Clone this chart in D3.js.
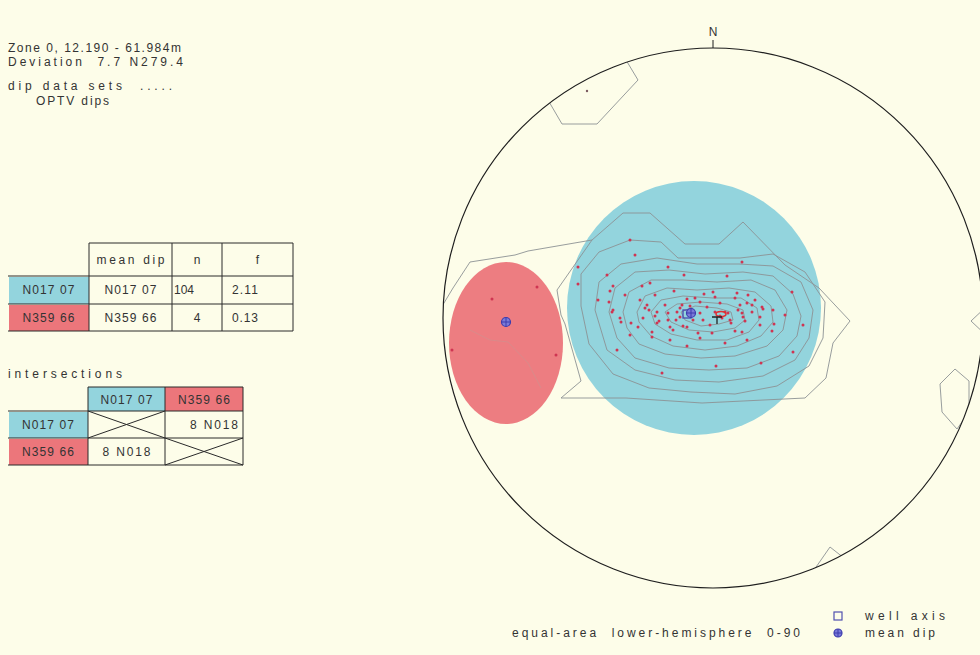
<!DOCTYPE html>
<html><head><meta charset="utf-8">
<script src="https://cdn.jsdelivr.net/npm/d3@7"></script>
<style>
html,body{margin:0;padding:0;background:#fdfde9;}
svg{display:block;}
text{font-family:"Liberation Sans",Arial,sans-serif;fill:#333;font-size:12px;white-space:pre;}
</style></head><body>
<svg id="chart" width="980" height="655"></svg>
<script>
// ---------------- data ----------------
const headerLines = ["Zone 0, 12.190 - 61.984m", "Deviation  7.7 N279.4", "dip data sets  .....", "OPTV dips"];
const tableHeaders = ["mean dip", "n", "f"];
const setLabels = ["N017 07", "N359 66"];
const meanDips = ["N017 07", "N359 66"];
const setCounts = [104, 4];
const setF = ["2.11", "0.13"];
const intersectionTitle = "intersections";
const intersectionLabel = "8 N018";
const projectionLabel = "equal-area  lower-hemisphere  0-90";
const legendLabels = ["well axis", "mean dip"];
const northLabel = "N";

// stereonet positions in net units (net radius = 270), x = east, y = north
const set1Poles = [[-106,43],[-29,43],[14,42],[-100,32],[-63,35],[-71,32],[-39,27],[-103,27],[-58,23],[-26,19],[-9,24],[0,26],[2,21],[24,25],[35,23],[79,26],[-104,16],[-66,13],[-68,10],[-64,8],[-56,6],[-31,13],[-33,10],[-13,16],[-6,11],[7,15],[27,13],[34,15],[39,13],[49,11],[-100,8],[-45,5],[-36,6],[-33,1],[-13,5],[12,6],[15,5],[25,8],[29,5],[30,1],[39,6],[47,1],[60,8],[-93,0],[-82,-5],[-70,0],[-54,-3],[-56,-5],[-45,-2],[-37,-2],[-20,-2],[-10,-2],[17,-2],[18,-5],[32,-3],[-75,-9],[-61,-14],[-43,-9],[-40,-12],[-30,-8],[-26,-9],[22,-13],[29,-14],[-61,-19],[-15,-15],[-1,-15],[61,-6],[59,-13],[-43,-22],[-26,-28],[12,-25],[34,-22],[-96,-32],[80,-34],[-51,-55],[3,-48],[48,-45],[29,56],[-135,51],[-45,51],[-135,34],[-101,6],[-92,-4],[50,9],[90,-7],[-83,78],[-78,63],[2,6],[7,2],[9,0],[-58,2],[-23,12],[-18,20],[22,20],[42,18],[-73,18],[-88,23],[-48,13],[-3,-7],[-13,-20],[47,-7],[72,3],[-83,-17],[-115,18]];
const set2Poles = [[-176,31],[-221,19],[-261,-32],[-157,-37]];
const otherPoles = [[-126,227]];
const meanPoles = [[-22,5],[-207,-4]];
const wellAxis = [-26,4];
const clusterCenters = [[-19,10],[-207,-25]];
const clusterRadii = [[127,127],[57,81]];

const contoursClosed = [
  [[-121,78],[-90,105],[-63,105],[-28,74],[6,74],[30,96],[72,53],[106,30],[137,-3],[120,-25],[113,-60],[92,-80],[-11,-85],[-87,-80],[-152,-80],[-132,-63],[-148,-6],[-152,3],[-156,28],[-142,48]],
  [[-132,12],[-132,44],[-114,66],[-83,78],[-52,76],[-35,60],[-5,60],[27,60],[60,64],[92,46],[112,16],[110,-20],[96,-48],[64,-68],[22,-76],[-22,-74],[-64,-70],[-100,-56],[-124,-26]],
  [[-118,8],[-114,36],[-92,54],[-56,60],[-16,54],[26,54],[60,52],[88,36],[100,8],[96,-20],[82,-42],[50,-58],[6,-64],[-38,-62],[-78,-52],[-106,-32]],
  [[-104,6],[-98,30],[-78,46],[-44,48],[-8,44],[30,46],[60,42],[80,24],[88,2],[84,-18],[66,-38],[34,-50],[-4,-52],[-44,-50],[-78,-40],[-96,-20]],
  [[-90,6],[-84,26],[-62,38],[-30,38],[4,36],[38,38],[62,28],[74,8],[70,-12],[54,-28],[22,-38],[-12,-40],[-48,-36],[-74,-26],[-86,-10]],
  [[-76,6],[-68,22],[-46,30],[-16,28],[16,30],[42,26],[58,12],[60,-4],[48,-18],[24,-28],[-8,-32],[-40,-28],[-62,-18],[-74,-4]],
  [[-62,6],[-52,18],[-30,22],[0,20],[28,20],[44,10],[46,-2],[36,-14],[14,-22],[-16,-22],[-42,-16],[-58,-6]],
  [[-48,6],[-36,14],[-12,16],[14,14],[30,8],[32,-2],[22,-10],[0,-14],[-24,-12],[-42,-4]],
  [[-32,6],[-18,12],[4,10],[18,6],[20,-2],[6,-6],[-12,-8],[-28,-2]],
  [[227,-66],[242,-51],[256,-63],[256,-94],[244,-111],[229,-94]]
];
const contoursOpen = [
  [[-272,10],[-260,30],[-243,56],[-198,63],[-185,67],[-121,78]],
  [[-165,218],[-151,194],[-116,194],[-75,238],[-87,258]],
  [[274,12],[258,-3],[274,-18]],
  [[101,-252],[117,-229],[131,-240]]
];
const redInnerLine = [[-243,-12],[-223,-22],[-205,-24],[-185,-45],[-172,-70]];

// ---------------- drawing ----------------
const svg = d3.select("#chart");
svg.append("rect").attr("width",980).attr("height",655).attr("fill","#fdfde9");

const R = 270;
const x = d3.scaleLinear().domain([-R, R]).range([443, 983]);
const y = d3.scaleLinear().domain([-R, R]).range([588, 48]);
const cx = x(0), cy = y(0);

svg.append("defs").append("clipPath").attr("id","net")
  .append("circle").attr("cx",cx).attr("cy",cy).attr("r",x(R)-cx);

const net = svg.append("g").attr("clip-path","url(#net)");
const line = d3.line().x(d=>x(d[0])).y(d=>y(d[1]));
const lineClosed = d3.line().x(d=>x(d[0])).y(d=>y(d[1])).curve(d3.curveLinearClosed);

// blue cluster
net.append("ellipse")
  .attr("cx", x(clusterCenters[0][0])).attr("cy", y(clusterCenters[0][1]))
  .attr("rx", x(clusterRadii[0][0]) - x(0)).attr("ry", y(0) - y(clusterRadii[0][1]))
  .attr("fill","#93d4dd");

// contours
net.selectAll("path.cc").data(contoursClosed).join("path").attr("class","cc")
  .attr("d", lineClosed).attr("fill","none").attr("stroke","#8c9294").attr("stroke-width",0.9);
net.selectAll("path.co").data(contoursOpen).join("path").attr("class","co")
  .attr("d", line).attr("fill","none").attr("stroke","#8c9294").attr("stroke-width",0.9);

// red cluster
net.append("ellipse")
  .attr("cx", x(clusterCenters[1][0])).attr("cy", y(clusterCenters[1][1]))
  .attr("rx", x(clusterRadii[1][0]) - x(0)).attr("ry", y(0) - y(clusterRadii[1][1]))
  .attr("fill","#ec767b").attr("opacity",0.95);
net.append("path").attr("d", line(redInnerLine)).attr("fill","none")
  .attr("stroke","#d98a8a").attr("stroke-width",1);

// poles
const allPoles = set1Poles.concat(set2Poles);
net.selectAll("circle.pole").data(allPoles).join("circle").attr("class","pole")
  .attr("cx", d=>x(d[0])).attr("cy", d=>y(d[1])).attr("r",1.5).attr("fill","#cf3552");
net.selectAll("circle.other").data(otherPoles).join("circle").attr("class","other")
  .attr("cx", d=>x(d[0])).attr("cy", d=>y(d[1])).attr("r",1.2).attr("fill","#7a5a60");

// small red loop and black mark near the densest cell
const mk = [x(4), y(5)];
net.append("ellipse").attr("cx", mk[0]+4).attr("cy", mk[1]+1).attr("rx",5).attr("ry",2.5)
  .attr("fill","none").attr("stroke","#e03030").attr("stroke-width",1.5);
net.append("path").attr("d", `M${mk[0]-5},${mk[1]+4}h10M${mk[0]},${mk[1]+4}v7`)
  .attr("stroke","#222").attr("stroke-width",1.3);

// well axis
svg.append("rect").attr("x", x(wellAxis[0])-4).attr("y", y(wellAxis[1])-4).attr("width",8).attr("height",8)
  .attr("fill","none").attr("stroke","#4a4ab0").attr("stroke-width",1.3);

// mean dips
function meanMarker(g, px, py, r) {
  g.append("circle").attr("cx",px).attr("cy",py).attr("r",r)
    .attr("fill","#7a7ad8").attr("stroke","#3c3cae").attr("stroke-width",1.2);
  g.append("path").attr("d",`M${px-r},${py}h${2*r}M${px},${py-r}v${2*r}`)
    .attr("stroke","#3c3cae").attr("stroke-width",1);
}
meanPoles.forEach(p => meanMarker(svg, x(p[0]), y(p[1]), 4.5));

// net circle
svg.append("circle").attr("cx",cx).attr("cy",cy).attr("r",x(R)-cx)
  .attr("fill","none").attr("stroke","#1e1e1e").attr("stroke-width",1.2);
svg.append("line").attr("x1",cx).attr("x2",cx).attr("y1",y(R)-8).attr("y2",y(R))
  .attr("stroke","#1e1e1e").attr("stroke-width",1);
svg.append("text").attr("x",cx).attr("y",y(R)-12).attr("text-anchor","middle").text(northLabel);

// ---------------- text panel ----------------
function txt(px, py, s, len, anchor) {
  const t = svg.append("text").attr("x",px).attr("y",py).text(s);
  if (anchor) t.attr("text-anchor", anchor);
  if (len) t.attr("textLength", len).attr("lengthAdjust","spacing");
  return t;
}
const hdrPos = [[8,52,173],[8,66,175],[8,90,164],[36,105,73]];
headerLines.forEach((s,i)=>txt(hdrPos[i][0],hdrPos[i][1],s,hdrPos[i][2]));

const setFill = ["#93d4dd","#ec767b"];
const stroke = "#2a2a2a";
function hline(x1,x2,yy){svg.append("line").attr("x1",x1).attr("x2",x2).attr("y1",yy).attr("y2",yy).attr("stroke",stroke).attr("stroke-width",1);}
function vline(xx,y1,y2){svg.append("line").attr("x1",xx).attr("x2",xx).attr("y1",y1).attr("y2",y2).attr("stroke",stroke).attr("stroke-width",1);}

// table 1
const t1c = [8, 89, 172, 222, 293];
const t1r = [243, 276, 304, 331];
setFill.forEach((f,i)=>svg.append("rect").attr("x",t1c[0]+1).attr("y",t1r[i+1]+1)
  .attr("width",t1c[1]-t1c[0]-1).attr("height",t1r[i+2]-t1r[i+1]-1).attr("fill",f));
hline(t1c[1],t1c[4],t1r[0]);
[1,2,3].forEach(i=>hline(t1c[0],t1c[4],t1r[i]));
[1,2,3,4].forEach(i=>vline(t1c[i],t1r[0],t1r[3]));
txt((t1c[1]+t1c[2])/2, 264, tableHeaders[0], 68, "middle");
txt((t1c[2]+t1c[3])/2, 264, tableHeaders[1], null, "middle");
txt((t1c[3]+t1c[4])/2, 264, tableHeaders[2], null, "middle");
setLabels.forEach((s,i)=>{
  const yy = [294, 322][i];
  txt((t1c[0]+t1c[1])/2, yy, s, 52, "middle");
  txt((t1c[1]+t1c[2])/2, yy, meanDips[i], 52, "middle");
  if (i===0) txt(t1c[2]+2, yy, String(setCounts[i]), 20);
  else txt((t1c[2]+t1c[3])/2, yy, String(setCounts[i]), null, "middle");
  txt(232, yy, setF[i], 26);
});

// table 2
txt(8, 378, intersectionTitle, 114);
const t2c = [8, 88, 165, 243];
const t2r = [387, 411, 438, 465];
svg.append("rect").attr("x",t2c[1]).attr("y",t2r[0]).attr("width",t2c[2]-t2c[1]).attr("height",t2r[1]-t2r[0]).attr("fill",setFill[0]);
svg.append("rect").attr("x",t2c[2]).attr("y",t2r[0]).attr("width",t2c[3]-t2c[2]).attr("height",t2r[1]-t2r[0]).attr("fill",setFill[1]);
svg.append("rect").attr("x",t2c[0]+1).attr("y",t2r[1]+1).attr("width",t2c[1]-t2c[0]-1).attr("height",t2r[2]-t2r[1]-1).attr("fill",setFill[0]);
svg.append("rect").attr("x",t2c[0]+1).attr("y",t2r[2]+1).attr("width",t2c[1]-t2c[0]-1).attr("height",t2r[3]-t2r[2]-1).attr("fill",setFill[1]);
hline(t2c[1],t2c[3],t2r[0]);
[1,2,3].forEach(i=>hline(t2c[0],t2c[3],t2r[i]));
[1,2,3].forEach(i=>vline(t2c[i],t2r[0],t2r[3]));
// crossed diagonal cells
[[1,1],[2,2]].forEach(([c,r])=>{
  svg.append("path").attr("d",`M${t2c[c]},${t2r[r]}L${t2c[c+1]},${t2r[r+1]}M${t2c[c]},${t2r[r+1]}L${t2c[c+1]},${t2r[r]}`)
    .attr("stroke",stroke).attr("stroke-width",1).attr("fill","none");
});
txt((t2c[1]+t2c[2])/2, 404, setLabels[0], 52, "middle");
txt((t2c[2]+t2c[3])/2, 404, setLabels[1], 52, "middle");
txt((t2c[0]+t2c[1])/2, 429, setLabels[0], 52, "middle");
txt((t2c[0]+t2c[1])/2, 456, setLabels[1], 52, "middle");
txt(t2c[3]-5, 429, intersectionLabel, 48, "end");
txt((t2c[1]+t2c[2])/2, 456, intersectionLabel, 48, "middle");

// ---------------- footer / legend ----------------
txt(512, 637, projectionLabel, 288);
svg.append("rect").attr("x",834).attr("y",612).attr("width",8).attr("height",8)
  .attr("fill","none").attr("stroke","#5050b0").attr("stroke-width",1.2);
meanMarker(svg, 838, 633, 4);
txt(865, 620, legendLabels[0], 80);
txt(865, 637, legendLabels[1], 70);
</script>
</body></html>
